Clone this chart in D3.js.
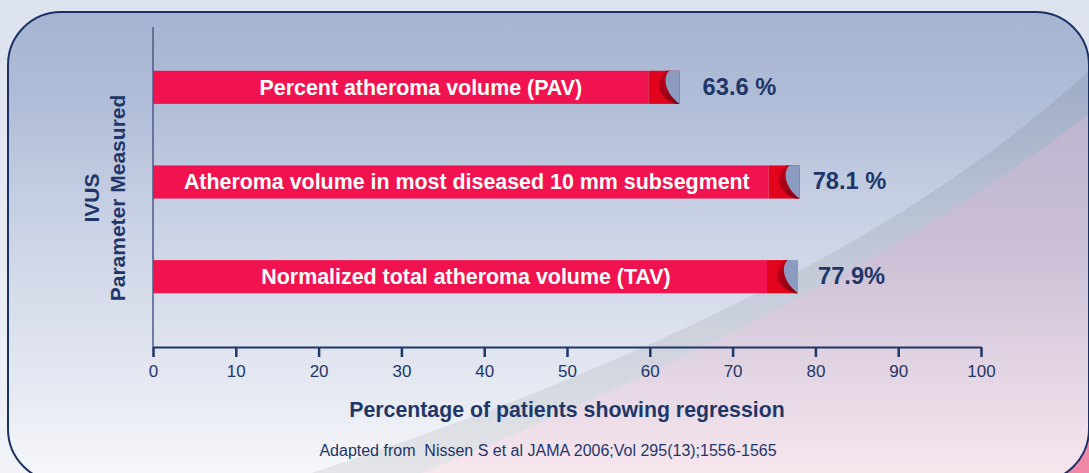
<!DOCTYPE html>
<html>
<head>
<meta charset="utf-8">
<script src="https://cdn.jsdelivr.net/npm/d3@7"></script>
<style>
  html, body { margin: 0; padding: 0; background: #dde3ee; }
  svg { display: block; }
</style>
</head>
<body>
<div id="container"></div>
<script>
// --- data ---
var categories = [
    "Percent atheroma volume (PAV)",
    "Atheroma volume in most diseased 10 mm subsegment",
    "Normalized total atheroma volume (TAV)"
];
var values = [63.6, 78.1, 77.9];
var valueLabels = ["63.6 %", "78.1 %", "77.9%"];
var tickValues = [0, 10, 20, 30, 40, 50, 60, 70, 80, 90, 100];
var yTitle = ["IVUS", "Parameter Measured"];
var xTitle = "Percentage of patients showing regression";
var source = "Adapted from \u00a0Nissen S et al JAMA 2006;Vol 295(13);1556-1565";

var W = 1089, H = 473;
var navy = "#1f3668";
var font = "'Liberation Sans', Arial, sans-serif";

var svg = d3.select("div#container")
    .append("svg")
    .attr("width", W)
    .attr("height", H);

var defs = svg.append("defs");

// outside background
var bgGrad = defs.append("linearGradient").attr("id", "bgGrad")
    .attr("x1", 0).attr("y1", 0).attr("x2", 0).attr("y2", 1);
bgGrad.append("stop").attr("offset", "0%").attr("stop-color", "#dce2ee");
bgGrad.append("stop").attr("offset", "100%").attr("stop-color", "#f1f3f8");

// panel (blue) gradient
var panelGrad = defs.append("linearGradient").attr("id", "panelGrad")
    .attr("gradientUnits", "userSpaceOnUse")
    .attr("x1", 0).attr("y1", 12).attr("x2", 0).attr("y2", 480);
[[0, "#a5b4d1"], [0.19, "#b0bdd8"], [0.4, "#c5cee2"], [0.61, "#d6dcea"], [0.83, "#e8ebf3"], [1, "#f7f8fb"]]
    .forEach(function (s) {
        panelGrad.append("stop").attr("offset", s[0]).attr("stop-color", s[1]);
    });

// pink region gradient
var pinkGrad = defs.append("linearGradient").attr("id", "pinkGrad")
    .attr("gradientUnits", "userSpaceOnUse")
    .attr("x1", 0).attr("y1", 80).attr("x2", 0).attr("y2", 480);
[[0, "#b9b3cd"], [0.42, "#cbbfd6"], [0.8, "#e8dae6"], [1, "#f9e7ef"]]
    .forEach(function (s) {
        pinkGrad.append("stop").attr("offset", s[0]).attr("stop-color", s[1]);
    });

// curl gradient for bar tips
var curlGrad = defs.append("linearGradient").attr("id", "curlGrad")
    .attr("x1", 0).attr("y1", 0).attr("x2", 1).attr("y2", 1);
curlGrad.append("stop").attr("offset", "0%").attr("stop-color", "#c8001a");
curlGrad.append("stop").attr("offset", "100%").attr("stop-color", "#7a0010");

defs.append("clipPath").attr("id", "panelClip")
    .append("rect")
    .attr("x", 8).attr("y", 12)
    .attr("width", 1081).attr("height", 470)
    .attr("rx", 53).attr("ry", 53);

// --- background ---
svg.append("rect").attr("width", W).attr("height", H).attr("fill", "url(#bgGrad)");
// pink blob behind bottom-right corner
svg.append("rect").attr("x", 1030).attr("y", 420).attr("width", 60).attr("height", 60)
    .attr("fill", "#ef87a6");

var panel = svg.append("g").attr("clip-path", "url(#panelClip)");
panel.append("rect")
    .attr("x", 8).attr("y", 12).attr("width", 1081).attr("height", 470)
    .attr("fill", "url(#panelGrad)");

// soft grey sweep band + pink region
panel.append("path")
    .attr("d", "M 290 480 Q 850 300 1100 60 L 1100 490 Z")
    .attr("fill", "#000").attr("fill-opacity", 0.065);
panel.append("path")
    .attr("d", "M 405 480 Q 867 291 1100 105 L 1100 490 Z")
    .attr("fill", "url(#pinkGrad)");

svg.append("rect")
    .attr("x", 8).attr("y", 12).attr("width", 1081).attr("height", 470)
    .attr("rx", 53).attr("ry", 53)
    .attr("fill", "none")
    .attr("stroke", "#1a3263")
    .attr("stroke-width", 2);

// --- scales ---
var x = d3.scaleLinear().domain([0, 100]).range([153, 981]);
var y = d3.scaleBand()
    .domain(categories)
    .range([40, 324])
    .paddingInner(0.65)
    .paddingOuter(0.325);

var axisY = 347;

// --- axes ---
svg.append("line")
    .attr("x1", x(0)).attr("x2", x(0))
    .attr("y1", 27).attr("y2", axisY)
    .attr("stroke", "#4a5b88").attr("stroke-width", 1.5);

var xAxis = svg.append("g")
    .attr("transform", "translate(0," + axisY + ")")
    .call(d3.axisBottom(x).tickValues(tickValues).tickSize(10).tickSizeOuter(0).tickPadding(8));
xAxis.select(".domain").attr("stroke", navy).attr("stroke-width", 2);
xAxis.selectAll(".tick line").attr("stroke", navy).attr("stroke-width", 2.5);
xAxis.selectAll(".tick text")
    .attr("fill", navy)
    .style("font-family", font)
    .style("font-size", "17px");

// --- bars ---
var tipW = 31;
var bars = svg.selectAll(".bar")
    .data(categories)
    .enter()
    .append("g")
    .attr("class", "bar");

bars.append("rect")
    .attr("x", x(0))
    .attr("y", d => y(d))
    .attr("width", (d, i) => x(values[i]) - x(0) - tipW)
    .attr("height", y.bandwidth())
    .attr("fill", "#f0134f");

// red tip with curl
bars.append("rect")
    .attr("x", (d, i) => x(values[i]) - tipW)
    .attr("y", d => y(d))
    .attr("width", tipW)
    .attr("height", y.bandwidth())
    .attr("fill", "#e2031d");

bars.append("path")
    .attr("d", function (d, i) {
        var e = x(values[i]), t = y(d), h = y.bandwidth();
        return "M " + (e - 13) + " " + t +
            " C " + (e - 26) + " " + (t + h * 0.35) + " " + (e - 22) + " " + (t + h * 0.8) + " " + (e - 4) + " " + (t + h) +
            " L " + e + " " + (t + h) +
            " C " + (e - 12) + " " + (t + h * 0.7) + " " + (e - 14) + " " + (t + h * 0.2) + " " + (e - 8) + " " + t + " Z";
    })
    .attr("fill", "url(#curlGrad)");

bars.append("path")
    .attr("d", function (d, i) {
        var e = x(values[i]), t = y(d), h = y.bandwidth();
        return "M " + (e - 10) + " " + t +
            " L " + e + " " + t +
            " L " + e + " " + (t + h) +
            " C " + (e - 16) + " " + (t + h * 0.65) + " " + (e - 17) + " " + (t + h * 0.15) + " " + (e - 10) + " " + t + " Z";
    })
    .attr("fill", "#8b9cc0");

// labels inside bars
bars.append("text")
    .attr("x", (d, i) => (x(0) + x(values[i]) - tipW) / 2 + (i === 0 ? 20 : 6))
    .attr("y", d => y(d) + y.bandwidth() / 2)
    .attr("dy", "0.35em")
    .attr("text-anchor", "middle")
    .attr("fill", "#fff")
    .style("font-family", font)
    .style("font-weight", "bold")
    .style("font-size", "21.4px")
    .text(d => d);

// value labels
bars.append("text")
    .attr("x", (d, i) => x(values[i]) + [23, 13, 20][i])
    .attr("y", d => y(d) + y.bandwidth() / 2 - 1)
    .attr("dy", "0.35em")
    .attr("fill", navy)
    .style("font-family", font)
    .style("font-weight", "bold")
    .style("font-size", "23.7px")
    .text((d, i) => valueLabels[i]);

// --- titles ---
var yt = svg.append("text")
    .attr("transform", "translate(0,198) rotate(-90)")
    .attr("text-anchor", "middle")
    .attr("fill", navy)
    .style("font-family", font)
    .style("font-weight", "bold")
    .style("font-size", "21px");
yt.append("tspan").attr("x", 0).attr("y", 99).text(yTitle[0]);
yt.append("tspan").attr("x", 0).attr("y", 125).text(yTitle[1]);

svg.append("text")
    .attr("x", 567)
    .attr("y", 417)
    .attr("text-anchor", "middle")
    .attr("fill", navy)
    .style("font-family", font)
    .style("font-weight", "bold")
    .style("font-size", "21.3px")
    .text(xTitle);

svg.append("text")
    .attr("x", 548)
    .attr("y", 456)
    .attr("text-anchor", "middle")
    .attr("fill", navy)
    .style("font-family", font)
    .style("font-size", "16px")
    .text(source);
</script>
</body>
</html>
